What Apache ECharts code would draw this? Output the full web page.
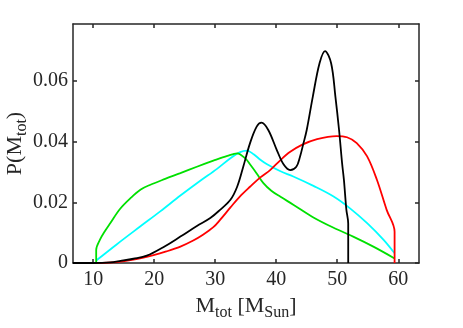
<!DOCTYPE html>
<html>
<head>
<meta charset="utf-8">
<script src="https://cdn.jsdelivr.net/npm/echarts@6/dist/echarts.min.js"></script>
<style>html,body{margin:0;padding:0;background:#fff;}#c{width:463px;height:328px;}</style>
</head>
<body>
<div id="c"></div>
<script>
const xTicks = [10, 20, 30, 40, 50, 60];
const yTicks = [0, 0.02, 0.04, 0.06];

const blackX = [6.7, 10, 12.8, 14.5, 16.6, 18.8, 21.5, 24.3, 27.0, 29.2, 30.8, 32.5, 33.6, 34.6, 35.7, 36.8, 37.6, 38.7, 40.1, 41.2, 42.3, 43.3, 43.9, 44.4, 45.0, 46.0, 47.1, 48.0, 49.0, 49.7, 50.3, 50.8, 51.1, 51.5, 51.8, 51.8];
const blackY = [0, 0, 0.0002, 0.0007, 0.0014, 0.0024, 0.0052, 0.0087, 0.0122, 0.0148, 0.0175, 0.0208, 0.0251, 0.0317, 0.0394, 0.0449, 0.0462, 0.0438, 0.0372, 0.0325, 0.0306, 0.0317, 0.035, 0.0389, 0.0438, 0.0548, 0.0658, 0.0698, 0.0658, 0.0548, 0.0438, 0.0328, 0.0273, 0.0175, 0.013, 0];

const redX = [10.5, 13.9, 16.6, 19.9, 22.0, 24.3, 26.4, 28.0, 29.7, 30.8, 32.5, 34.0, 35.7, 37.4, 39.0, 40.7, 42.3, 44.2, 46.7, 49.9, 51.6, 53.2, 54.9, 56.5, 58.1, 59.4, 59.4];
const redY = [0, 0.0003, 0.0011, 0.0026, 0.0038, 0.0054, 0.0074, 0.0093, 0.0118, 0.0142, 0.0183, 0.0218, 0.0251, 0.0282, 0.0306, 0.0339, 0.0366, 0.0389, 0.0408, 0.0418, 0.0414, 0.0395, 0.0351, 0.0274, 0.0175, 0.0103, 0];

const greenX = [10.5, 10.5, 11.1, 12.0, 12.8, 14.4, 16.2, 17.8, 19.3, 21.8, 24.3, 27.0, 29.7, 32.0, 33.6, 35.0, 35.7, 36.8, 37.9, 39.2, 40.7, 42.8, 46.1, 49.4, 52.7, 56.0, 59.4];
const greenY = [0, 0.0043, 0.0076, 0.0107, 0.0131, 0.0178, 0.0215, 0.0242, 0.0257, 0.0277, 0.0296, 0.0317, 0.0337, 0.0353, 0.0361, 0.0343, 0.0325, 0.0295, 0.0263, 0.0238, 0.0218, 0.0192, 0.0150, 0.0116, 0.0086, 0.0053, 0.0015];

const cyanX = [10.5, 13.9, 17.7, 21.0, 24.3, 27.5, 30.3, 32.5, 34.1, 35.2, 36.3, 37.4, 38.5, 40.7, 42.8, 46.1, 49.4, 52.1, 54.9, 57.6, 59.4];
const cyanY = [0.0008, 0.0062, 0.012, 0.017, 0.0222, 0.027, 0.031, 0.0345, 0.0365, 0.037, 0.0358, 0.034, 0.0325, 0.0302, 0.0285, 0.0254, 0.0219, 0.018, 0.0131, 0.0076, 0.0032];

const zip = (xs, ys) => xs.map((x, i) => [x, ys[i]]);
const axisColor = '#262626';
const font = 'Liberation Serif';

function mkLine(name, xs, ys, color, z) {
  return { name, type: 'line', data: zip(xs, ys), showSymbol: false, smooth: 0.35,
    lineStyle: { color, width: 1.8 }, z, animation: false, clip: true };
}

const chart = echarts.init(document.getElementById('c'), null, { renderer: 'canvas' });
const xBase = { type: 'value', min: 6.7, max: 63.4, splitLine: { show: false },
  axisLine: { show: true, onZero: false, lineStyle: { color: axisColor, width: 1.5 } },
  axisTick: { show: true, inside: true, length: 4, customValues: xTicks, lineStyle: { color: axisColor, width: 1.5 } } };
const yBase = { type: 'value', min: 0, max: 0.0787, splitLine: { show: false },
  axisLine: { show: true, onZero: false, lineStyle: { color: axisColor, width: 1.5 } },
  axisTick: { show: true, inside: true, length: 4, customValues: yTicks, lineStyle: { color: axisColor, width: 1.5 } } };

const titleRich = {
  a: { fontFamily: font, fontSize: 22, color: axisColor, verticalAlign: 'top', lineHeight: 22 },
  s: { fontFamily: font, fontSize: 16, color: axisColor, verticalAlign: 'top', lineHeight: 22, padding: [10, 0, 0, 0] }
};

chart.setOption({
  animation: false,
  backgroundColor: '#fff',
  grid: { left: 73, right: 44, top: 24, bottom: 65, containLabel: false, outerBoundsMode: 'none' },
  xAxis: [
    Object.assign({}, xBase, { position: 'bottom',
      axisLabel: { show: true, customValues: xTicks, color: axisColor, fontFamily: font, fontSize: 20, margin: 7 },
      name: '{a|M}{s|tot}{a| [M}{s|Sun}{a|]}', nameLocation: 'middle', nameGap: 32, nameMoveOverlap: false,
      nameTextStyle: { rich: titleRich } }),
    Object.assign({}, xBase, { position: 'top', axisLabel: { show: false } })
  ],
  yAxis: [
    Object.assign({}, yBase, { position: 'left',
      axisLabel: { show: true, customValues: yTicks, color: axisColor, fontFamily: font, fontSize: 20, margin: 5,
        formatter: v => (v === 0 ? '0' : v.toFixed(2)) },
      name: '{a|P(M}{s|tot}{a|)}', nameLocation: 'middle', nameGap: 47, nameRotate: 90, nameMoveOverlap: false,
      nameTextStyle: { rich: titleRich } }),
    Object.assign({}, yBase, { position: 'right', axisLabel: { show: false } })
  ],
  series: [
    mkLine('cyan', cyanX, cyanY, '#00ffff', 2),
    mkLine('green', greenX, greenY, '#00e000', 3),
    mkLine('red', redX, redY, '#ff0000', 4),
    mkLine('black', blackX, blackY, '#000000', 5)
  ]
});
</script>
</body>
</html>
